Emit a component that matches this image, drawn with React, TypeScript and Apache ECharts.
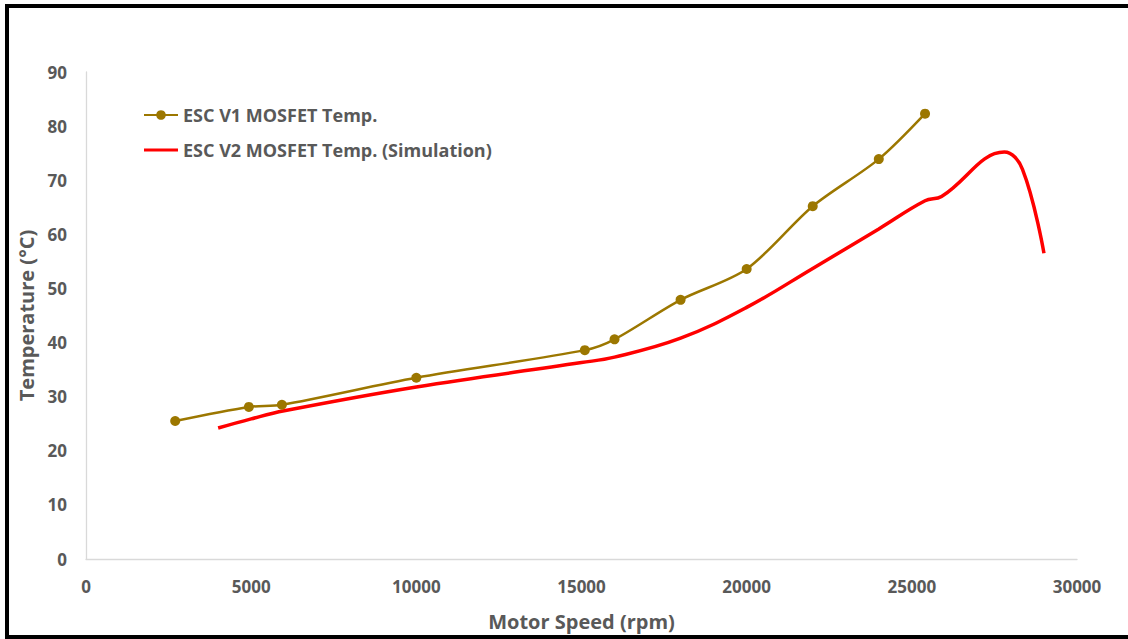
import React, { useEffect, useRef } from "react";
import * as echarts from "echarts";

const xTicks = [0, 5000, 10000, 15000, 20000, 25000, 30000];
const yTicks = [0, 10, 20, 30, 40, 50, 60, 70, 80, 90];

const v1Name = "ESC V1 MOSFET Temp.";
const v1Speed = [2700, 4930, 5930, 10000, 15100, 16000, 18000, 20000, 22000, 24000, 25400];
const v1Temp = [25.5, 28.1, 28.5, 33.5, 38.6, 40.6, 47.9, 53.6, 65.2, 73.9, 82.3];

const v2Name = "ESC V2 MOSFET Temp. (Simulation)";
const v2Speed = [4000, 5000, 6000, 10000, 15000, 16000, 18000, 20000, 22000, 24000, 25400, 25900, 27800, 28350, 29000];
const v2Temp = [24.2, 25.9, 27.4, 31.8, 36.3, 37.3, 40.8, 46.5, 53.7, 61.0, 66.2, 67.0, 75.2, 72.0, 56.5];

const FONT = "'Open Sans', Lato, sans-serif";
const GRAY = "#595959";

export default function App() {
  const ref = useRef<HTMLDivElement>(null);
  useEffect(() => {
    const chart = echarts.init(ref.current!, null, { renderer: "svg" });
    chart.setOption({
      animation: false,
      backgroundColor: "#ffffff",
      grid: { left: 86, right: 51, top: 72, bottom: 80, containLabel: false },
      legend: {
        left: 138,
        top: 101,
        orient: "vertical",
        itemWidth: 34,
        itemHeight: 12,
        itemGap: 17,
        textStyle: { color: GRAY, fontSize: 18, fontWeight: "bold", fontFamily: FONT },
        data: [
          { name: v1Name },
          { name: v2Name, icon: "path://M0,0L0.01,0M0,4.5H34V7.5H0ZM34,12L34.01,12" },
        ],
      },
      xAxis: {
        type: "value",
        min: xTicks[0],
        max: xTicks[xTicks.length - 1],
        interval: xTicks[1] - xTicks[0],
        name: "Motor Speed (rpm)",
        nameLocation: "middle",
        nameGap: 52,
        nameTextStyle: { color: GRAY, fontSize: 20, fontWeight: "bold", fontFamily: FONT },
        axisLine: { show: true, lineStyle: { color: "#d9d9d9", width: 1.3 } },
        axisTick: { show: false },
        splitLine: { show: false },
        axisLabel: {
          color: GRAY, fontSize: 17, fontWeight: "bold", fontFamily: FONT, margin: 19,
          formatter: (v: number) => String(v),
        },
      },
      yAxis: {
        type: "value",
        min: yTicks[0],
        max: yTicks[yTicks.length - 1],
        interval: yTicks[1] - yTicks[0],
        name: "Temperature (°C)",
        nameLocation: "middle",
        nameGap: 48,
        nameTextStyle: { color: GRAY, fontSize: 20, fontWeight: "bold", fontFamily: FONT },
        axisLine: { show: true, lineStyle: { color: "#d9d9d9", width: 1.3 } },
        axisTick: { show: false },
        splitLine: { show: false },
        axisLabel: {
          color: GRAY, fontSize: 17, fontWeight: "bold", fontFamily: FONT, margin: 19,
          formatter: (v: number) => String(v),
        },
      },
      series: [
        {
          name: v1Name,
          type: "line",
          smooth: 0.3,
          data: v1Speed.map((x, i) => [x, v1Temp[i]]),
          symbol: "circle",
          symbolSize: 10,
          itemStyle: { color: "#9C7700" },
          lineStyle: { color: "#9C7700", width: 2.5 },
        },
        {
          name: v2Name,
          type: "line",
          smooth: 0.4,
          data: v2Speed.map((x, i) => [x, v2Temp[i]]),
          showSymbol: false,
          symbol: "none",
          itemStyle: { color: "#ff0000" },
          lineStyle: { color: "#ff0000", width: 3.5 },
        },
      ],
      graphic: [
        {
          type: "rect",
          shape: { x: 7, y: 6, width: 1200, height: 631 },
          style: { fill: "none", stroke: "#000000", lineWidth: 4 },
          silent: true,
        },
      ],
    });
    return () => chart.dispose();
  }, []);
  return (
    <div style={{ position: "fixed", left: 0, top: 0, width: 1128, height: 639, background: "#fff" }}>
      <div ref={ref} style={{ width: 1128, height: 639 }} />
    </div>
  );
}
